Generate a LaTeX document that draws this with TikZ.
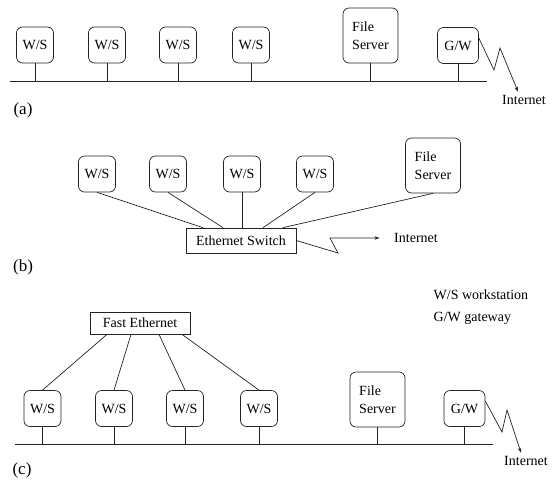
\documentclass[tikz,border=0pt]{standalone}
\usepackage{fontspec}
\setmainfont{Liberation Serif}
\usetikzlibrary{arrows.meta,positioning,calc}
\definecolor{netInk}{RGB}{35,35,35}

\tikzset{
  ws/.style={draw=netInk,rounded corners=6pt,minimum width=37pt,
             minimum height=36pt,inner sep=0pt,
             font=\fontsize{14}{16}\selectfont},
  fsbox/.style={ws,minimum width=55pt,minimum height=55pt,align=left,
                font=\fontsize{14}{18}\selectfont},
  gwbox/.style={ws,minimum width=41pt},
  hubbox/.style={draw=netInk,minimum width=110pt,minimum height=25pt,
                 inner sep=0pt,font=\fontsize{14}{16}\selectfont},
  lbl/.style={font=\fontsize{14}{16}\selectfont},
  panel/.style={font=\fontsize{17}{19}\selectfont},
  zap/.style={draw=netInk,-{Stealth[length=5pt,width=3.5pt]}},
}

\begin{document}
\begin{tikzpicture}[x=1pt,y=-1pt,line width=0.7pt]
  \useasboundingbox (0,0) rectangle (553,485);

    % ── (a) BUS ────────────────────────────────────────────
    \foreach \i/\x in {1/35,2/107,3/178,4/251}{
      \node[ws] (wsA\i) at (\x,45){W/S};
    }
    \node[fsbox] (fsA) at (370.5,35.5){File\\Server};
    \node[gwbox] (gwA) at (458,45.5){G/W};
    \coordinate (busAw) at (10,81);
    \coordinate (busAe) at (487,81);
    \draw[netInk] (busAw)--(busAe);
    \foreach \n in {wsA1,wsA2,wsA3,wsA4,fsA,gwA}{
      \draw[netInk] (\n)--(\n |- busAw);
    }
    % zigzag to internet
    \node[lbl] (netA) at (524,100){Internet};
    \coordinate (zA1) at (494,70);
    \coordinate (zA2) at (500,48);
    \draw[zap] ([yshift=-11pt]gwA.north east)--(zA1)--(zA2)
      --([xshift=-6pt]netA.north);
    \node[panel] (capA) at (23,110){(a)};

    % ── (b) SWITCH ─────────────────────────────────────────
    \foreach \i/\x in {1/97,2/168,3/242,4/315}{
      \node[ws] (wsB\i) at (\x,174){W/S};
    }
    \node[fsbox] (fsB) at (433,165.5){File\\Server};
    \node[hubbox] (swB) at (241,240.5){Ethernet Switch};
    \foreach \n/\dx in {wsB1/-38,wsB2/-18,wsB3/1,wsB4/22,fsB/42}{
      \draw[netInk] (\n.south)--([xshift=\dx pt]swB.north);
    }
    % zigzag to internet
    \node[lbl] (netB) at (416,238){Internet};
    \coordinate (zB1) at (338,253);
    \coordinate (zB2) at (330,238);
    \draw[zap] (swB.east)--(zB1)--(zB2)--([xshift=-11pt]netB.west);
    \node[panel] (capB) at (23,267){(b)};

    % ── KEY ────────────────────────────────────────────────
    \node[lbl,anchor=west] (keyWS) at (430,295){W/S workstation};
    \node[lbl,anchor=west] (keyGW) at (430,318){G/W gateway};

    % ── (c) FAST ETHERNET + BUS ───────────────────────────
    \node[hubbox,minimum width=100pt,minimum height=22pt] (feC)
      at (140,323){Fast Ethernet};
    \foreach \i/\x in {1/42.5,2/114,3/185,4/259}{
      \node[ws] (wsC\i) at (\x,408.5){W/S};
    }
    \node[fsbox] (fsC) at (377.5,399.5){File\\Server};
    \node[gwbox] (gwC) at (464.5,408.5){G/W};
    \foreach \n/\dx in {wsC1/-33,wsC2/-9,wsC3/19,wsC4/42}{
      \draw[netInk] ([xshift=\dx pt]feC.south)--(\n.north);
    }
    \coordinate (busCw) at (15,444);
    \coordinate (busCe) at (493,444);
    \draw[netInk] (busCw)--(busCe);
    \foreach \n in {wsC1,wsC2,wsC3,wsC4,fsC,gwC}{
      \draw[netInk] (\n)--(\n |- busCw);
    }
    % zigzag to internet
    \node[lbl] (netC) at (526,461){Internet};
    \coordinate (zC1) at (502,432);
    \coordinate (zC2) at (507,410);
    \draw[zap] ([yshift=-11pt]gwC.north east)--(zC1)--(zC2)
      --([xshift=-5pt]netC.north);
    \node[panel] (capC) at (22,470){(c)};

  \end{tikzpicture}
\end{document}
